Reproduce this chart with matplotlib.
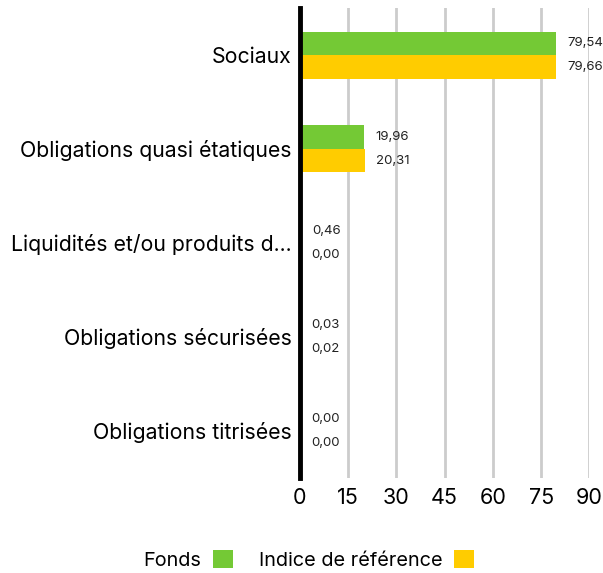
import numpy as np
import matplotlib.pyplot as plt

plt.rcParams['font.family'] = ['Inter', 'DejaVu Sans']

categories = ["Sociaux", "Obligations quasi étatiques", "Liquidités et/ou produits d...",
              "Obligations sécurisées", "Obligations titrisées"]
fonds = [79.54, 19.96, 0.46, 0.03, 0.00]
indice = [79.66, 20.31, 0.00, 0.02, 0.00]
xticks = [0, 15, 30, 45, 60, 75, 90]

green = '#74c935'
yellow = '#ffcc00'

fig = plt.figure(figsize=(6.03, 5.73), dpi=100)
ax = fig.add_axes([0.4975, 0.166, 0.48, 0.82])

y = np.arange(len(categories))
h = 0.25
ax.barh(y - h / 2, fonds, height=h, color=green, label='Fonds', zorder=3)
ax.barh(y + h / 2, indice, height=h, color=yellow, label='Indice de référence', zorder=3)

def fmt(v):
    return ('%.2f' % v).replace('.', ',')

for i in range(len(categories)):
    ax.annotate(fmt(fonds[i]), (fonds[i], y[i] - h / 2), xytext=(8, 0),
                textcoords='offset points', va='center', ha='left', fontsize=9.5, color='#222222')
    ax.annotate(fmt(indice[i]), (indice[i], y[i] + h / 2), xytext=(8, 0),
                textcoords='offset points', va='center', ha='left', fontsize=9.5, color='#222222')

ax.set_xlim(0, 90)
ax.set_ylim(len(categories) - 0.5, -0.5)
ax.set_xticks(xticks)
ax.set_xticklabels([str(t) for t in xticks], fontsize=15.5)
ax.set_yticks(y)
ax.set_yticklabels(categories, fontsize=15.3)
ax.tick_params(length=0, pad=6)
ax.tick_params(axis='x', pad=7)
ax.grid(axis='x', color='#cccccc', linewidth=2, zorder=0)
for s in ['top', 'right', 'bottom']:
    ax.spines[s].set_visible(False)
ax.spines['left'].set_linewidth(3.5)
ax.spines['left'].set_zorder(4)

fig.legend(loc='center', bbox_to_anchor=(0.512, 0.023), ncol=2, frameon=False,
           markerfirst=False, fontsize=14.3, handlelength=1.0, handleheight=1.0,
           columnspacing=1.3, handletextpad=0.6)

fig.savefig('out.png', dpi=100)
